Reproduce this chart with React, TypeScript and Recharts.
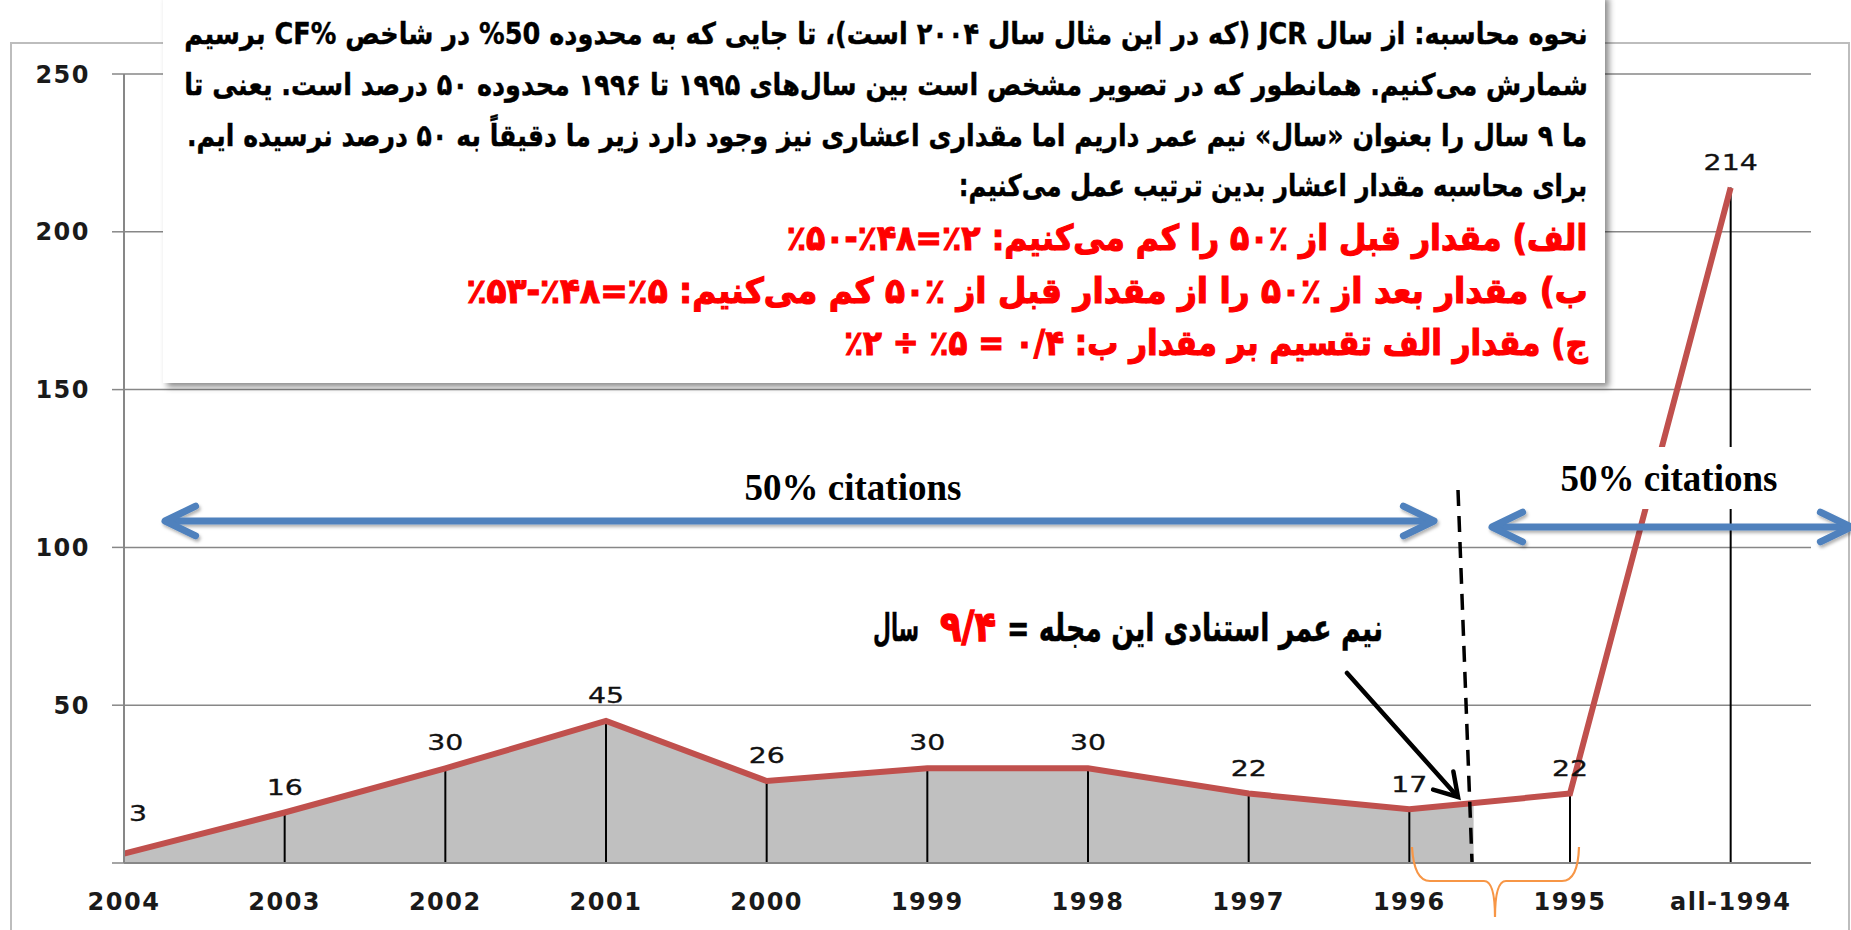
import { useLayoutEffect, useRef, useState } from "react"
import { ComposedChart, Area, Line, XAxis, YAxis, CartesianGrid, ReferenceLine, LabelList } from "recharts"

const years = ["2004", "2003", "2002", "2001", "2000", "1999", "1998", "1997", "1996", "1995", "all-1994"]
const citations = [3, 16, 30, 45, 26, 30, 30, 22, 17, 22, 214]
const yTicks = [0, 50, 100, 150, 200, 250]
const halfLife = 9.4 // years, as given in the note
const halfLifeLevel = 19 // where the red line crosses the half-life mark

const noteLines = [
  "نحوه محاسبه: از سال JCR (که در این مثال سال ۲۰۰۴ است)، تا جایی که به محدوده 50% در شاخص \u2066CF%\u2069 برسیم",
  "شمارش می‌کنیم. همانطور که در تصویر مشخص است بین سال‌های ۱۹۹۵ تا ۱۹۹۶ محدوده ۵۰ درصد است.  یعنی تا",
  "ما ۹ سال را بعنوان «سال» نیم عمر داریم اما مقداری اعشاری نیز وجود دارد زیر ما دقیقاً به ۵۰ درصد نرسیده ایم.",
  "برای محاسبه مقدار اعشار بدین ترتیب عمل می‌کنیم:",
]
const stepLines = [
  "الف) مقدار قبل از ٪۵۰ را کم می‌کنیم: \u2066٪۵۰-٪۴۸=٪۲\u2069",
  "ب) مقدار بعد از ٪۵۰  را از مقدار قبل از ٪۵۰ کم می‌کنیم: \u2066٪۵۳-٪۴۸=٪۵\u2069",
  "ج) مقدار الف تقسیم بر مقدار ب: \u2066٪۲ ÷ ٪۵ = ۰/۴\u2069",
]
const halfLifeText = ["نیم عمر استنادی این مجله =", "۹/۴", "سال"]

const linePoints = citations.map((v, i) => ({ x: i, v }))
const areaPoints = [...citations.slice(0, 9).map((v, i) => ({ x: i, v })), { x: halfLife - 1, v: halfLifeLevel }]

const persian = "'DejaVu Sans', 'Noto Sans', sans-serif"

function PointLabel(props: any) {
  const { x, y, value, index } = props
  // the first label sits against the axis, Excel nudged it up and right
  const cx = index === 0 ? x + 14 : x
  const cy = index === 0 ? y - 40 : y - 25
  return (
    <text
      transform={`translate(${cx} ${cy}) scale(1.35 1)`}
      textAnchor="middle"
      dominantBaseline="central"
      fontFamily="'DejaVu Sans', Verdana, sans-serif"
      fontSize={21}
      fill="#111"
      stroke="#111"
      strokeWidth={0.3}
    >
      {value}
    </text>
  )
}

// rtl text squeezed horizontally to a given width (the source font is a narrow one)
function FitText({ cx, y, width, children, ...rest }: any) {
  const ref = useRef<SVGTextElement>(null)
  const [k, setK] = useState(1)
  useLayoutEffect(() => {
    const w = ref.current ? ref.current.getComputedTextLength() : 0
    if (w > 0) setK(width / w)
  }, [width, children])
  return (
    <text ref={ref} transform={`translate(${cx} ${y}) scale(${k} 1)`} x={0} y={0} textAnchor="middle" direction="rtl" {...rest}>
      {children}
    </text>
  )
}

// open V-shaped head, pointing along (dx, dy) at the tip
function chevron(tx: number, ty: number, dx: number, dy: number, len = 34, ang = 0.45) {
  const l = Math.hypot(dx, dy)
  const ux = dx / l
  const uy = dy / l
  const w = (a: number) => {
    const rx = ux * Math.cos(a) - uy * Math.sin(a)
    const ry = ux * Math.sin(a) + uy * Math.cos(a)
    return `${tx - rx * len},${ty - ry * len}`
  }
  return `${w(ang)} ${tx},${ty} ${w(-ang)}`
}

function Annotations() {
  const blue = "#4F81BD"
  const noteX = [886, 886, 887, 1273]
  const noteW = [1404, 1404, 1401, 629]
  const noteY = [44, 95, 146, 196]
  const stepX = [1187, 1027, 1216]
  const stepW = [801, 1122, 744]
  const stepY = [250, 303, 355]
  const hlX = [1195, 968, 896]
  const hlW = [376, 56, 46]
  return (
    <svg width={1851} height={930} style={{ position: "absolute", left: 0, top: 0, pointerEvents: "none" }}>
      <defs>
        <filter id="boxShadow" x="-5%" y="-5%" width="110%" height="115%">
          <feDropShadow dx="4" dy="4" stdDeviation="3" floodColor="#000" floodOpacity="0.45" />
        </filter>
        <filter id="arrowShadow" x="-5%" y="-50%" width="110%" height="200%">
          <feDropShadow dx="1.5" dy="2.5" stdDeviation="1.5" floodColor="#000" floodOpacity="0.3" />
        </filter>
      </defs>

      {/* outer chart frame */}
      <path d="M11 930 L11 43 L1849 43 L1849 930" fill="none" stroke="#bdbdbd" strokeWidth={2} />

      {/* note box */}
      <rect x={163} y={-6} width={1442} height={389} fill="#fff" filter="url(#boxShadow)" />
      {noteLines.map((t, i) => (
        <FitText
          key={i}
          cx={noteX[i]}
          y={noteY[i]}
          width={noteW[i]}
          fontFamily={persian}
          fontWeight="bold"
          fontSize={30}
          fill="#000"
          stroke="#000"
          strokeWidth={0.4}
        >
          {t}
        </FitText>
      ))}
      {stepLines.map((t, i) => (
        <FitText
          key={i}
          cx={stepX[i]}
          y={stepY[i]}
          width={stepW[i]}
          fontFamily={persian}
          fontWeight="bold"
          fontSize={35}
          fill="#ff0000"
          stroke="#ff0000"
          strokeWidth={1.2}
        >
          {t}
        </FitText>
      ))}

      {/* 50% citations arrows */}
      <g filter="url(#arrowShadow)" stroke={blue} strokeWidth={7} strokeLinecap="round" strokeLinejoin="round" fill="none">
        <line x1={167} y1={521} x2={1432} y2={521} />
        <polyline points={chevron(165, 521, -1, 0)} />
        <polyline points={chevron(1434, 521, 1, 0)} />
        <line x1={1494} y1={527} x2={1851} y2={527} />
        <polyline points={chevron(1492, 527, -1, 0)} />
        <polyline points={chevron(1851, 527, 1, 0)} />
      </g>
      <text x={853} y={500} textAnchor="middle" fontFamily="'Liberation Serif', 'Times New Roman', serif" fontWeight="bold" fontSize={37} fill="#000">
        50% citations
      </text>
      <rect x={1552} y={447} width={236} height={62} fill="#fff" />
      <text x={1669} y={491} textAnchor="middle" fontFamily="'Liberation Serif', 'Times New Roman', serif" fontWeight="bold" fontSize={37} fill="#000">
        50% citations
      </text>

      {/* half-life mark */}
      <line x1={1458} y1={490} x2={1472} y2={862} stroke="#000" strokeWidth={3.5} strokeDasharray="16 10" />
      {halfLifeText.map((t, i) => (
        <FitText
          key={i}
          cx={hlX[i]}
          y={641}
          width={hlW[i]}
          fontFamily={persian}
          fontWeight="bold"
          fontSize={i === 1 ? 42 : 38}
          fill={i === 1 ? "#ff0000" : "#000"}
          stroke={i === 1 ? "#ff0000" : "#000"}
          strokeWidth={i === 1 ? 1.4 : 0.5}
        >
          {t}
        </FitText>
      ))}
      <g stroke="#000" strokeWidth={4.5} strokeLinecap="round" fill="none">
        <line x1={1347} y1={673} x2={1457} y2={796} />
        <polyline points={chevron(1458, 797, 111, 124, 26, 0.55)} />
      </g>

      {/* brace under 1996-1995 */}
      <path
        d="M1412 847 Q1414 881 1430 881 L1484 881 Q1495 881 1495 917 Q1495 881 1506 881 L1562 881 Q1578 881 1579 847"
        fill="none"
        stroke="#F79646"
        strokeWidth={2.2}
      />
    </svg>
  )
}

export default function App() {
  return (
    <div style={{ position: "relative", width: 1851, height: 930, background: "#fff" }}>
      <style>{"body{margin:0}"}</style>
      <ComposedChart width={1851} height={930} margin={{ top: 74, right: 40, bottom: 17, left: 24 }}>
        <CartesianGrid vertical={false} stroke="#878787" strokeWidth={1.5} />
        <XAxis
          type="number"
          dataKey="x"
          domain={[0, 10.5]}
          ticks={years.map((_, i) => i)}
          interval={0}
          tickFormatter={(i: number) => years[i] ?? ""}
          height={50}
          tickLine={false}
          tickMargin={24}
          axisLine={{ stroke: "#878787", strokeWidth: 2 }}
          tick={{ fontFamily: "'DejaVu Sans', Verdana, sans-serif", fontWeight: "bold", fontSize: 24, fill: "#1a1a1a", letterSpacing: 1.5 }}
        />
        <YAxis
          type="number"
          domain={[0, 250]}
          ticks={yTicks}
          width={100}
          tickFormatter={(v: number) => (v === 0 ? "" : String(v))}
          tickSize={12}
          tickMargin={22}
          tickLine={{ stroke: "#878787", strokeWidth: 1.5 }}
          axisLine={{ stroke: "#878787", strokeWidth: 2 }}
          tick={{ fontFamily: "'DejaVu Sans', Verdana, sans-serif", fontWeight: "bold", fontSize: 24, fill: "#1a1a1a", letterSpacing: 1.5 }}
        />
        <Area data={areaPoints} dataKey="v" type="linear" fill="#C0C0C0" fillOpacity={1} stroke="none" isAnimationActive={false} />
        {linePoints.slice(1).map((p) => (
          <ReferenceLine key={p.x} segment={[{ x: p.x, y: 0 }, { x: p.x, y: p.v }]} stroke="#000" strokeWidth={2} />
        ))}
        <Line data={linePoints} dataKey="v" type="linear" stroke="#C0504D" strokeWidth={6} dot={false} isAnimationActive={false}>
          <LabelList dataKey="v" content={PointLabel} />
        </Line>
      </ComposedChart>
      <Annotations />
    </div>
  )
}
